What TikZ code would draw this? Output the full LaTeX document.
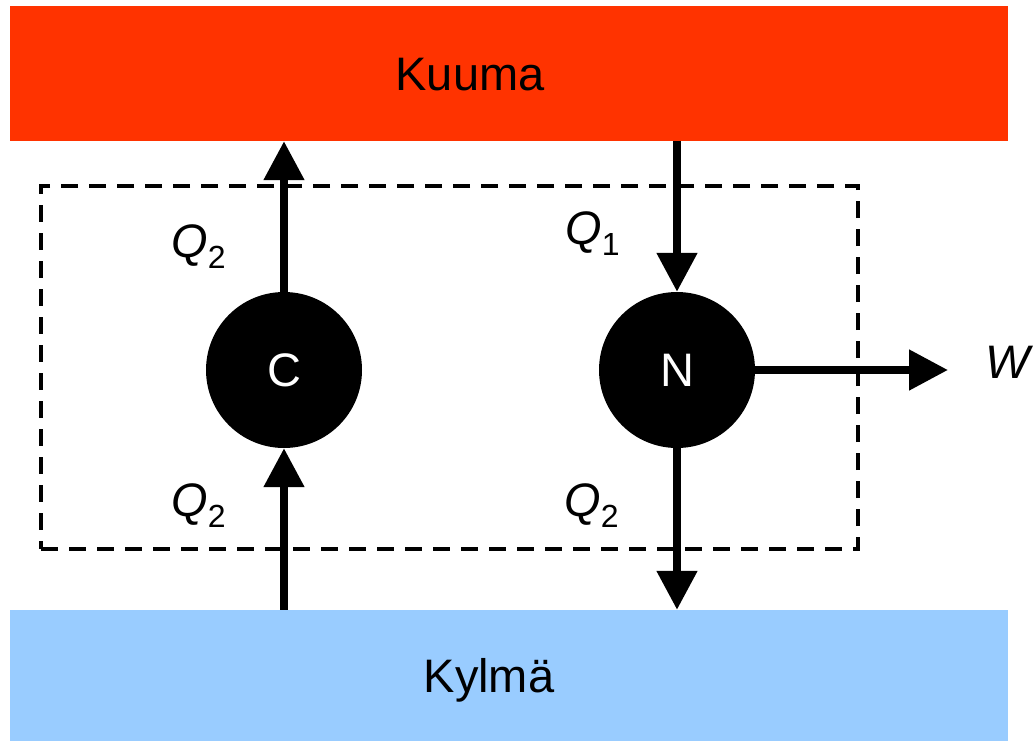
\documentclass[tikz,border=0pt]{standalone}
\usepackage{fontspec}
\setmainfont{Liberation Sans}
\usetikzlibrary{arrows.meta}
\definecolor{hotred}{HTML}{FF3300}
\definecolor{coldblue}{HTML}{99CCFF}
\newcommand{\bigfont}{\fontsize{47}{53}\selectfont}
\newcommand{\qlab}[1]{\textit{Q}\raisebox{-11pt}{\fontsize{32}{36}\selectfont #1}}
\begin{document}
\begin{tikzpicture}[x=1pt,y=-1pt,
  reservoir/.style={rectangle, inner sep=0pt, minimum width=998pt, font=\bigfont},
  engine/.style={circle, fill=black, inner sep=0pt, minimum size=156pt, text=white, font=\bigfont},
  flow/.style={line width=8pt, -{Triangle[length=39pt,width=39pt]}},
  lbl/.style={inner sep=0pt, anchor=base west, font=\bigfont},
  sysbox/.style={draw, line width=4pt, dash pattern=on 17pt off 11pt, inner sep=0pt, minimum width=817pt, minimum height=363pt}]
\useasboundingbox (0,0) rectangle (1035,741);
\node[reservoir, fill=hotred, minimum height=135pt] (hot) at (509,73.5) {};
\node[reservoir, fill=coldblue, minimum height=131pt] (cold) at (509,675.5) {};
\node at (470,75) {\bigfont Kuuma};
\node at (489,680) {\bigfont Kylmä};
\node[sysbox] (sys) at (449.5,367.5) {};
\node[engine] (C) at (284,370) {C};
\node[engine] (N) at (677,370) {N};
\coordinate (wend) at (948,370);
\draw[flow] (C.north) -- (C.north |- hot.south);
\draw[flow] (C.south |- cold.north) -- (C.south);
\draw[flow] (N.north |- hot.south) -- (N.north);
\draw[flow] (N.south) -- (N.south |- cold.north);
\draw[flow] (N.east) -- (wend);
\node[lbl] (q2a) at (171,257) {\qlab{2}};
\node[lbl] (q1) at (565,244) {\qlab{1}};
\node[lbl] (q2b) at (171,516) {\qlab{2}};
\node[lbl] (q2c) at (564,516) {\qlab{2}};
\node[lbl] (w) at (985,378) {\textit{W}};
\end{tikzpicture}
\end{document}
